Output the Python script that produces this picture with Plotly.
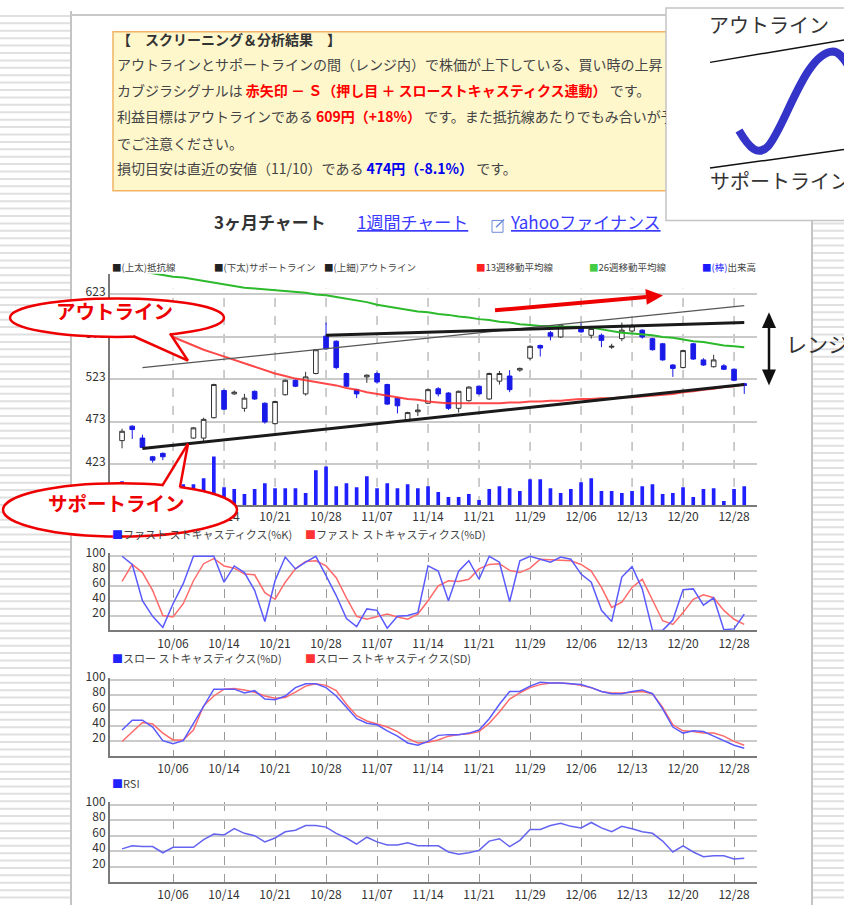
import math
import plotly.graph_objects as go

W, H = 844, 905
FONT = "Noto Sans CJK JP"

# ---------------- data ----------------
dates = ["09/29","09/30","10/03","10/04","10/05","10/06","10/07","10/11","10/12","10/13",
         "10/14","10/17","10/18","10/19","10/20","10/21","10/24","10/25","10/26","10/27",
         "10/28","10/31","11/01","11/02","11/04","11/07","11/08","11/09","11/10","11/11",
         "11/14","11/15","11/16","11/17","11/18","11/21","11/22","11/24","11/25","11/28",
         "11/29","11/30","12/01","12/02","12/05","12/06","12/07","12/08","12/09","12/12",
         "12/13","12/14","12/15","12/16","12/19","12/20","12/21","12/22","12/26","12/27",
         "12/28","12/29"]
opens = [451,468,454,432,436,445,446,454,454,478, 510,506,489,509,495,471,505,522,506,530,
         574,568,530,511,526,530,517,501,474,485, 495,512,507,489,498,515,500,521,527,534,
         548,563,578,573,584,585,575,575,561,571, 580,581,571,565,540,537,565,546,538,539,
         535,518]
highs = [465,469,458,433,437,446,447,467,478,518, 511,510,506,510,496,498,523,523,532,559,
         590,569,531,512,529,532,518,502,485,494, 512,514,508,510,515,516,531,533,534,537,
         563,564,580,588,586,589,585,577,565,590, 588,582,572,566,541,558,566,548,552,541,
         536,519]
lows = [442,453,442,425,428,444,445,453,450,477, 487,505,485,499,471,470,504,514,504,529,
        558,535,514,501,519,518,493,483,474,480, 494,503,487,484,497,505,499,517,508,532,
        546,550,569,572,583,578,571,561,559,568, 578,571,557,545,526,536,546,539,537,534,
        521,506]
closes = [462,464,443,428,432,445.5,446.5,466,476,517, 488,508,501,500,473,497,522,515,526,558,
          559,537,515,506,528,520,494,492,484,487, 511,506,489,509,514,506,530,530,511,536,
          562,560,574,587,585,579,583,569,562,581, 586,573,558,546,536,557,547,540,546,535,
          522,516]
volume = [240,170,200,140,160,200,210,210,270,490, 180,160,110,160,220,170,170,170,120,350,
          390,190,220,180,290,170,220,170,210,170, 190,130,80,80,110,50,160,190,170,140,
          260,260,170,120,160,230,270,140,140,120, 140,190,210,110,120,180,80,160,170,40,
          160,190]
ma13 = [600,594,589,583,578,573,568,563,558,554, 550,546,542,538,534,530,527,524,522,520,
        518,516,513,511,508,506,504,502,500,499, 497,496,495,495,495,495,495,495,496,496,
        497,497,498,498,499,500,500,501,501,502, 502,503,504,505,506,508,509,511,512,514,
        515,517]
ma26 = [655,653,650,648,646,644,643,641,639,637, 635,633,631,630,629,628,627,626,625,623,
        622,620,618,616,614,611,609,607,605,603, 602,600,599,597,596,594,593,591,590,588,
        587,586,586,585,585,585,584,582,580,578, 577,576,575,573,572,570,568,567,565,563,
        562,561]
fast_k = [100,89,40,19,4,36,63,100,100,100, 65,87,78,54,12,67,99,83,92,100,
          74,47,16,5,29,27,3,19,20,24, 87,80,40,80,94,69,100,92,39,94,
          100,96,92,99,96,76,65,27,12,72, 86,56,0,0,14,55,56,34,44,1,
          2,22]
fast_d = [66,89,78,54,20,18,36,67,90,97, 87,84,76,75,51,42,65,83,93,94,
          87,71,44,19,15,18,22,18,15,22, 40,60,67,66,69,83,89,90,81,78,
          84,96,95,95,94,89,80,58,31,38, 58,69,40,13,8,24,42,48,44,27,
          15,8]
slow_d = [34,47,47,38,20,16,20,43,66,88, 88,88,83,86,75,74,79,90,95,95,
          90,79,64,49,43,41,33,26,17,14, 19,27,28,28,30,34,49,68,85,85,
          92,97,96,96,95,94,90,85,82,82, 85,87,82,62,38,30,33,32,26,20,
          14,10]
slow_sd = [19,32,44,42,30,21,21,34,66,79, 88,89,87,84,79,76,77,84,92,95,
           93,86,68,53,46,42,38,32,23,17, 18,21,26,28,29,32,43,58,75,83,
           90,94,96,96,95,93,90,85,83,83, 84,85,82,64,41,33,32,30,30,26,
           19,14]
rsi = [43,47,46,46,38,45,45,45,55,62, 61,69,63,60,52,57,65,67,73,73,
       71,63,57,49,58,52,48,48,51,47, 47,47,39,36,38,41,53,56,46,54,
       68,68,73,76,72,70,77,70,65,72, 69,65,63,53,39,47,39,33,34,34,
       30,31]

tick_dates = ["10/06","10/14","10/21","10/28","11/07","11/14","11/21","11/29",
              "12/06","12/13","12/20","12/28"]
price_ticks = [423, 473, 523, 573, 623]
osc_ticks = [20, 40, 60, 80, 100]

# trend lines as (date, price) end points
resistance_dates, resistance_prices = ["10/28", "12/29"], [575, 590]
support_dates, support_prices = ["10/03", "12/29"], [441.6, 517]
outline_dates, outline_prices = ["10/03", "12/29"], [537, 610]

RED = "#ff0000"
BLUE = "#0000ee"
summary_lines = [
    "<b><span style='color:#333'>【\u3000スクリーニング＆分析結果\u3000】</span></b>",
    "アウトラインとサポートラインの間（レンジ内）で株価が上下している、買い時の上昇トレンドです。",
    f"カブジラシグナルは <b><span style='color:{RED}'>赤矢印 － Ｓ（押し目 ＋ スローストキャスティクス連動）</span></b> です。",
    f"利益目標はアウトラインである <b><span style='color:{RED}'>609円（+18%）</span></b> です。また抵抗線あたりでもみ合いが予想されますの",
    "でご注意ください。",
    f"損切目安は直近の安値（11/10）である <b><span style='color:{BLUE}'>474円（-8.1%）</span></b> です。",
]

# ---------------- helpers (pixel -> paper) ----------------
def px(x): return x / W
def py(y): return 1 - y / H

annotations = []
shapes = []
TEXT_DY = 6  # this font renders slightly low; lift texts by a few pixels

def T(x, y, s, size=12, color="#333", xanchor="left", yanchor="middle", dy=TEXT_DY):
    annotations.append(dict(x=px(x), y=py(y - dy), xref="paper", yref="paper", text=s,
                            showarrow=False, xanchor=xanchor, yanchor=yanchor,
                            font=dict(size=size, color=color, family=FONT)))

def pathstr(pts, close=False):
    s = "M " + " L ".join(f"{px(a):.5f},{py(b):.5f}" for a, b in pts)
    return s + (" Z" if close else "")

def line(x0, y0, x1, y1, color="#000", width=1, layer="below", dash=None):
    ln = dict(color=color, width=width)
    if dash:
        ln["dash"] = dash
    shapes.append(dict(type="line", xref="paper", yref="paper", x0=px(x0), y0=py(y0),
                       x1=px(x1), y1=py(y1), line=ln, layer=layer))

def rect(x0, y0, x1, y1, fill, lc, lw=1, layer="below"):
    shapes.append(dict(type="rect", xref="paper", yref="paper", x0=px(x0), y0=py(y1),
                       x1=px(x1), y1=py(y0), fillcolor=fill, line=dict(color=lc, width=lw),
                       layer=layer))

def poly(pts, fill, lc="rgba(0,0,0,0)", lw=0, layer="above"):
    shapes.append(dict(type="path", xref="paper", yref="paper", path=pathstr(pts, True),
                       fillcolor=fill, line=dict(color=lc, width=lw), layer=layer))

# ---------------- page background ----------------
stripe_l = []
stripe_r = []
yy = 5.0
while yy < H:
    stripe_l.append(f"M 0,{py(yy):.5f} L {px(70):.5f},{py(yy):.5f}")
    if yy > 212:
        stripe_r.append(f"M {px(813):.5f},{py(yy):.5f} L 1,{py(yy):.5f}")
    yy += 7.5
shapes.append(dict(type="path", xref="paper", yref="paper", path=" ".join(stripe_l),
                   line=dict(color="#e0e0e0", width=2), layer="below"))
shapes.append(dict(type="path", xref="paper", yref="paper", path=" ".join(stripe_r),
                   line=dict(color="#e0e0e0", width=2), layer="below"))
line(71, 0, 71, H, "#c4c4c4", 2)
line(812, 212, 812, H, "#c4c4c4", 2)
line(71, 4, 666, 4, "#c8c8c8", 2)

# yellow analysis box
rect(113, 21, 700, 182, "#fff7cc", "#f2b463", 1.5)
# inset box (top right)
rect(666, -3, 848, 212, "#ffffff", "#c4c4c4", 1.5)

# ---------------- traces ----------------
fig = go.Figure()
fig.add_trace(go.Bar(x=dates, y=volume, xaxis="x", yaxis="y2", width=0.36,
                     marker=dict(color="#2020ff", line=dict(width=0))))
fig.add_trace(go.Candlestick(x=dates, open=opens, high=highs, low=lows, close=closes,
                             xaxis="x", yaxis="y", whiskerwidth=0,
                             increasing=dict(fillcolor="#ffffff", line=dict(color="#333333", width=1)),
                             decreasing=dict(fillcolor="#1a1ae8", line=dict(color="#1a1ae8", width=1))))
fig.add_trace(go.Scatter(x=dates, y=ma13, mode="lines", xaxis="x", yaxis="y",
                         line=dict(color="rgba(255,40,40,0.85)", width=2)))
fig.add_trace(go.Scatter(x=dates, y=ma26, mode="lines", xaxis="x", yaxis="y",
                         line=dict(color="#2cba2c", width=2)))
fig.add_trace(go.Scatter(x=outline_dates, y=outline_prices, mode="lines", xaxis="x", yaxis="y",
                         line=dict(color="#555555", width=1.2)))
fig.add_trace(go.Scatter(x=support_dates, y=support_prices, mode="lines", xaxis="x", yaxis="y",
                         line=dict(color="#1a1a1a", width=3)))
fig.add_trace(go.Scatter(x=resistance_dates, y=resistance_prices, mode="lines", xaxis="x", yaxis="y",
                         line=dict(color="#1a1a1a", width=3)))

fig.add_trace(go.Scatter(x=dates, y=fast_d, mode="lines", xaxis="x2", yaxis="y3",
                         line=dict(color="#ff6a6a", width=1.5)))
fig.add_trace(go.Scatter(x=dates, y=fast_k, mode="lines", xaxis="x2", yaxis="y3",
                         line=dict(color="#5a5aff", width=1.5)))
fig.add_trace(go.Scatter(x=dates, y=slow_sd, mode="lines", xaxis="x3", yaxis="y4",
                         line=dict(color="#ff6a6a", width=1.5)))
fig.add_trace(go.Scatter(x=dates, y=slow_d, mode="lines", xaxis="x3", yaxis="y4",
                         line=dict(color="#5a5aff", width=1.5)))
fig.add_trace(go.Scatter(x=dates, y=rsi, mode="lines", xaxis="x4", yaxis="y5",
                         line=dict(color="#6464f0", width=1.5)))

# summary text inside the yellow box (clipped at the inset box edge, like the page)
summary_x = [117] * len(summary_lines)
summary_y = [31, 56, 83, 109, 136, 161]
fig.add_trace(go.Scatter(x=summary_x, y=summary_y, text=summary_lines, mode="text",
                         textposition="middle right", cliponaxis=True, hoverinfo="skip",
                         textfont=dict(size=14, color="#444", family=FONT),
                         xaxis="x5", yaxis="y6"))

# main panel weekly dashed grid
for t in tick_dates:
    i = dates.index(t)
    shapes.append(dict(type="line", xref="x", yref="paper", x0=i, x1=i,
                       y0=py(500), y1=py(281), line=dict(color="#9a9a9a", width=1, dash="dash"),
                       layer="below"))

# ---------------- axes ----------------
xr = [-1.18, 62.25]
tickfont = dict(size=12, color="#333", family=FONT)

def xaxis(anchor, grid, standoff):
    return dict(type="category", range=xr, domain=[px(110), px(757)], anchor=anchor,
                tickmode="array", tickvals=tick_dates, ticktext=tick_dates,
                showgrid=grid, griddash="dash", gridcolor="#9a9a9a", gridwidth=1,
                showline=True, linecolor="#7a7a7a", linewidth=2, ticks="",
                ticklabelstandoff=standoff, tickfont=tickfont, zeroline=False,
                fixedrange=True, rangeslider=dict(visible=False))

def yaxis(anchor, dom, rng, vals):
    return dict(domain=[py(dom[1]), py(dom[0])], range=rng, anchor=anchor,
                tickmode="array", tickvals=vals, ticktext=[str(v) for v in vals],
                showgrid=True, gridcolor="#cacaca", gridwidth=2,
                showline=True, linecolor="#7a7a7a", linewidth=2, ticks="",
                ticklabelshift=-3,
                tickfont=tickfont, zeroline=False, fixedrange=True)

# ---------------- legends & texts ----------------
LG = 9.5
T(110, 265, "<span style='color:#222'>■</span>(上太)抵抗線", LG, "#444")
T(212, 265, "<span style='color:#222'>■</span>(下太)サポートライン", LG, "#444")
T(322, 265, "<span style='color:#222'>■</span>(上細)アウトライン", LG, "#444")
T(474, 265, "<span style='color:#ff2020'>■</span>13週移動平均線", LG, "#444")
T(587, 265, "<span style='color:#44cc44'>■</span>26週移動平均線", LG, "#444")
T(700, 265, "<span style='color:#1a1aff'>■(棒)</span>出来高", LG, "#444")

LG2 = 11
T(110, 535, "<span style='color:#2222ff'>■</span>ファスト ストキャスティクス(%K)", LG2, "#444")
T(303, 535, "<span style='color:#ff3333'>■</span>ファスト ストキャスティクス(%D)", LG2, "#444")
T(110, 661, "<span style='color:#2222ff'>■</span>スロー ストキャスティクス(%D)", LG2, "#444")
T(303, 661, "<span style='color:#ff3333'>■</span>スロー ストキャスティクス(SD)", LG2, "#444")
T(110, 788, "<span style='color:#2222ff'>■</span>RSI", LG2, "#444")

# chart title row
T(212, 219, "<b>3ヶ月チャート</b>", 17, "#333")
T(355, 219, "<u>1週間チャート</u>", 17, "#3b3bff")
T(508, 219, "<u>Yahooファイナンス</u>", 17, "#3b3bff")
rect(492, 212, 503, 224, "rgba(0,0,0,0)", "#6a8ad8", 1)
line(496, 219, 504, 211, "#6a8ad8", 1.5)

# inset (top right)
T(707, 20, "アウトライン", 20, "#333")
T(708, 178, "サポートライン", 20, "#333")
line(710, 52, 846, 29, "#111", 1.5, "above")
line(710, 159, 846, 140, "#111", 1.5, "above")
scurve = [(739, 121), (750, 140), (758, 147), (768, 137), (785, 118), (805, 42), (833, 41),
          (838, 41), (842, 45), (850, 58)]
sc = f"M {px(scurve[0][0]):.5f},{py(scurve[0][1]):.5f}"
for k in range(1, len(scurve), 3):
    sc += " C " + " ".join(f"{px(a):.5f},{py(b):.5f}" for a, b in scurve[k:k+3])
shapes.append(dict(type="path", xref="paper", yref="paper", path=sc,
                   line=dict(color="#3434c8", width=8), layer="above"))

# red trend arrow
ax0, ay0, ax1, ay1 = 495, 303, 663, 288
d = math.hypot(ax1 - ax0, ay1 - ay0)
ux, uy = (ax1 - ax0) / d, (ay1 - ay0) / d
bx, by = ax1 - 17 * ux, ay1 - 17 * uy
line(ax0, ay0, bx, by, "#ee0000", 4, "above")
poly([(ax1, ay1), (bx - 8 * uy, by + 8 * ux), (bx + 8 * uy, by - 8 * ux)], "#ee0000")

# range double arrow
line(769, 318, 769, 366, "#111", 2.5, "above")
poly([(769, 305), (762, 321), (776, 321)], "#111")
poly([(769, 379), (762, 363), (776, 363)], "#111")
T(784, 342, "レンジ", 21, "#333")

# callouts
def callout(cx, cy, rx, ry, base1, base2, tip, text):
    shapes.append(dict(type="circle", xref="paper", yref="paper", x0=px(cx - rx), x1=px(cx + rx),
                       y0=py(cy + ry), y1=py(cy - ry), fillcolor="#ffffff",
                       line=dict(color="#ee0000", width=2.5), layer="above"))
    inner1 = (base1[0] + (cx - base1[0]) * 0.15, base1[1] + (cy - base1[1]) * 0.25)
    inner2 = (base2[0] + (cx - base2[0]) * 0.15, base2[1] + (cy - base2[1]) * 0.25)
    poly([inner1, base1, tip, base2, inner2], "#ffffff")
    line(base1[0], base1[1], tip[0], tip[1], "#ee0000", 2.5, "above")
    line(base2[0], base2[1], tip[0], tip[1], "#ee0000", 2.5, "above")
    T(cx - 3, cy - 1, f"<b>{text}</b>", 19.5, "#ee0000", xanchor="center")

callout(117, 310.5, 107, 19.5, (133, 329), (170, 326.5), (188, 354), "アウトライン")
callout(120, 505, 117, 27, (162, 481), (180, 482), (188, 438), "サポートライン")

# ---------------- layout ----------------
fig.update_layout(
    width=W, height=H, margin=dict(l=0, r=0, t=0, b=0),
    paper_bgcolor="#ffffff", plot_bgcolor="rgba(0,0,0,0)",
    showlegend=False, boxgap=0.35, bargap=0.6,
    font=dict(family=FONT, color="#333"),
    xaxis=xaxis("y", False, 0),
    yaxis=yaxis("x", (266, 500), [375.3, 647.4], price_ticks),
    yaxis2=dict(overlaying="y", range=[0, 2340], visible=False, anchor="x", fixedrange=True),
    xaxis2=xaxis("y3", True, 1),
    yaxis3=yaxis("x2", (549, 627), [0, 104], osc_ticks),
    xaxis3=xaxis("y4", True, 1),
    yaxis4=yaxis("x3", (675, 754), [0, 103], osc_ticks),
    xaxis4=xaxis("y5", True, 0),
    yaxis5=yaxis("x4", (801, 882), [0, 103], osc_ticks),
    xaxis5=dict(domain=[px(113), px(666)], range=[113, 666], visible=False, anchor="y6",
                fixedrange=True),
    yaxis6=dict(domain=[py(182), py(21)], range=[182, 21], visible=False, anchor="x5",
                fixedrange=True),
    shapes=shapes, annotations=annotations,
)
fig.write_html("out.html", config={"displayModeBar": False},
               post_script="document.body.style.margin='0';document.body.style.overflow='hidden';")
